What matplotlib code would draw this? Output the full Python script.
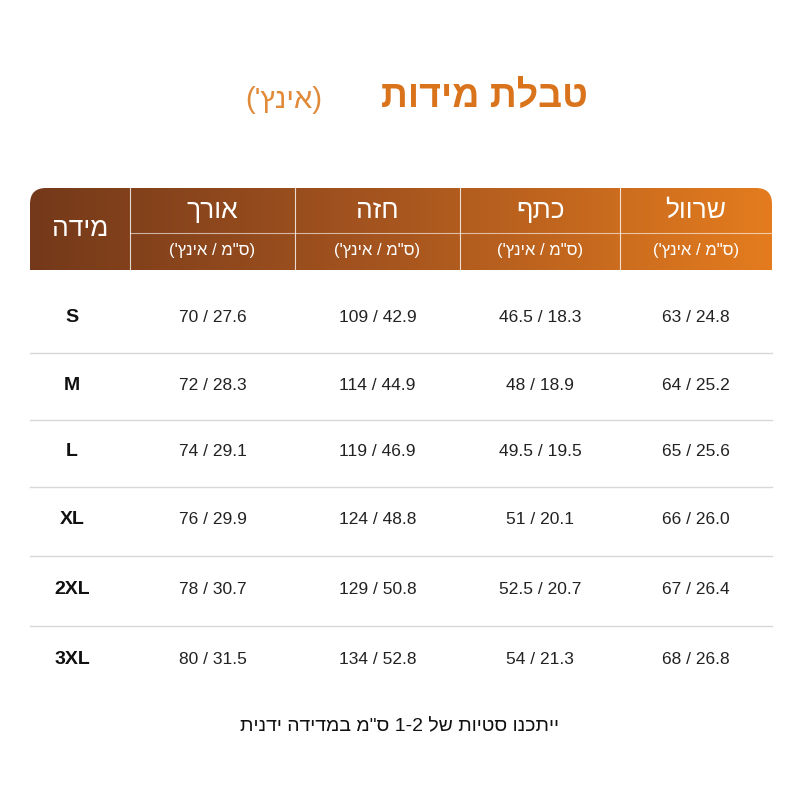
import matplotlib
matplotlib.use("Agg")
import matplotlib.pyplot as plt
import numpy as np
from matplotlib.patches import FancyBboxPatch
from matplotlib.colors import LinearSegmentedColormap

plt.rcParams['font.family'] = ['Liberation Sans', 'DejaVu Sans']

# Hebrew strings stored in visual (left-to-right display) order
title_main = "תודימ תלבט"
title_sub = "('ץניא)"
size_header = "הדימ"
col_headers = ["ךרוא", "הזח", "ףתכ", "לוורש"]
unit_label = "('ץניא / מ\"ס)"
footnote = "תינדי הדידמב מ\"ס 1-2 לש תויטס ונכתיי"

sizes = ["S", "M", "L", "XL", "2XL", "3XL"]
length = ["70 / 27.6", "72 / 28.3", "74 / 29.1", "76 / 29.9", "78 / 30.7", "80 / 31.5"]
chest = ["109 / 42.9", "114 / 44.9", "119 / 46.9", "124 / 48.8", "129 / 50.8", "134 / 52.8"]
shoulder = ["46.5 / 18.3", "48 / 18.9", "49.5 / 19.5", "51 / 20.1", "52.5 / 20.7", "54 / 21.3"]
sleeve = ["63 / 24.8", "64 / 25.2", "65 / 25.6", "66 / 26.0", "67 / 26.4", "68 / 26.8"]

fig = plt.figure(figsize=(8, 8), dpi=100)
ax = fig.add_axes([0, 0, 1, 1])
ax.set_xlim(0, 800); ax.set_ylim(800, 0); ax.axis('off')

# title
ax.text(588, 97, title_main, ha='right', va='center', fontsize=27, fontweight='bold', color='#d9741c')
ax.text(322, 100, title_sub, ha='right', va='center', fontsize=21, color='#e08a3a')

# header gradient
x0, x1, y0, y1 = 30, 772, 188, 270
cmap = LinearSegmentedColormap.from_list('g', ['#74391a', '#a8561f', '#e47c1e'])
grad = np.linspace(0, 1, 256).reshape(1, -1)
im = ax.imshow(grad, extent=(x0, x1, y1, y0), cmap=cmap, aspect='auto', zorder=1)
clip = FancyBboxPatch((x0, y0), x1 - x0, (y1 - y0) + 20, boxstyle="round,pad=0,rounding_size=16",
                      transform=ax.transData, facecolor='none', edgecolor='none')
ax.add_patch(clip)
im.set_clip_path(clip)

bounds = [30, 130, 295, 460, 620, 772]
for b in bounds[1:-1]:
    ax.plot([b, b], [y0, y1], color='white', lw=0.8, alpha=0.8, zorder=2)
ax.plot([130, 772], [233, 233], color='white', lw=0.8, alpha=0.6, zorder=2)

ax.text(80, 229, size_header, ha='center', va='center', fontsize=19, color='white', zorder=3)
for i, h in enumerate(col_headers):
    cx = (bounds[i + 1] + bounds[i + 2]) / 2
    ax.text(cx, 211, h, ha='center', va='center', fontsize=19, color='white', zorder=3)
    ax.text(cx, 251, unit_label, ha='center', va='center', fontsize=12, color='white', zorder=3)

row_y = [318, 385, 452, 520, 590, 660]
for r, y in enumerate(row_y):
    ax.text(72, y, sizes[r], ha='center', va='center', fontsize=14, fontweight='bold', color='#111111')
    for i, col in enumerate([length, chest, shoulder, sleeve]):
        cx = (bounds[i + 1] + bounds[i + 2]) / 2
        ax.text(cx, y, col[r], ha='center', va='center', fontsize=12.5, color='#222222')
    if r < len(row_y) - 1:
        ys = (y + row_y[r + 1]) / 2 + 1
        ax.plot([30, 772], [ys, ys], color='#d8d8d8', lw=1)

ax.text(400, 727, footnote, ha='center', va='center', fontsize=14, color='#111111')

fig.savefig('out.png', dpi=100, facecolor='white')
